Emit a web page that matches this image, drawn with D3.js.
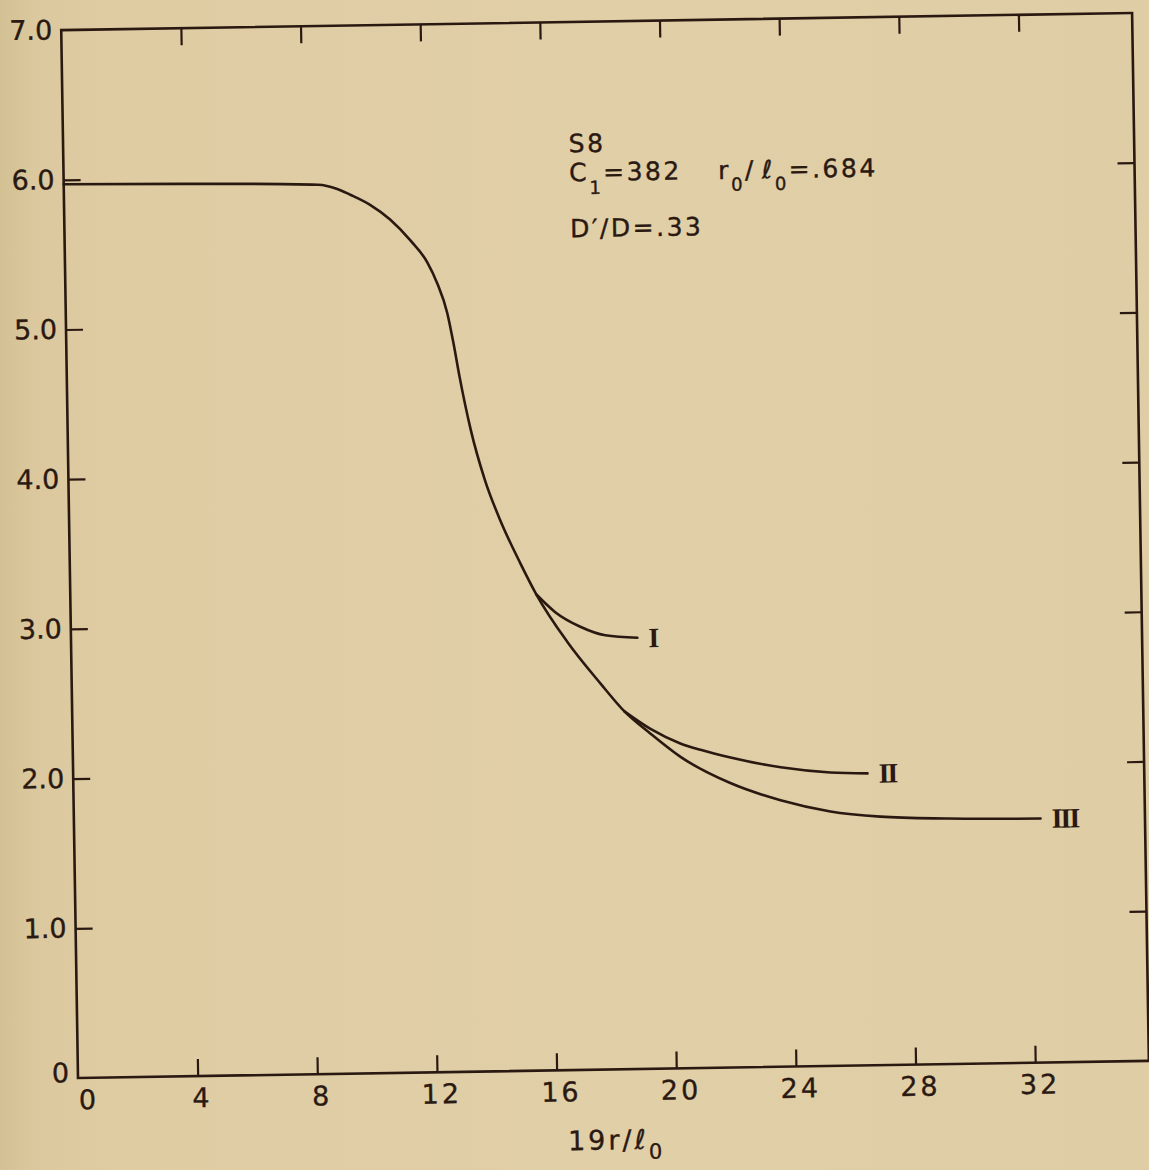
<!DOCTYPE html>
<html>
<head>
<meta charset="utf-8">
<script src="https://cdn.jsdelivr.net/npm/d3@7"></script>
<style>
  html, body { margin: 0; padding: 0; background: #e0cda5; }
  svg { display: block; }
</style>
</head>
<body>
<svg id="chart" width="1149" height="1170"></svg>
<script>
// ---- axis ticks and labels ----
const xTicks  = [4, 8, 12, 16, 20, 24, 28, 32];
const xLabels = [0, 4, 8, 12, 16, 20, 24, 28, 32];
const yTicks  = [1, 2, 3, 4, 5, 6];
const yLabels = [0, 1, 2, 3, 4, 5, 6, 7];
const xExtent = [0, 35.8];
const yExtent = [0, 7];

// ---- main curve (continues as branch III) ----
const mainX = [0, 4, 8.5, 9.14, 9.57, 10.23, 10.89, 11.55, 12.11, 12.43, 12.75, 12.94,
               13.13, 13.47, 13.92, 14.41, 15.06, 15.58, 16.59, 17.67, 18.46, 19.31,
               20.31, 21.96, 23.63, 25.29, 26.96, 29.2, 32.31];
const mainY = [5.97, 5.96, 5.94, 5.91, 5.87, 5.80, 5.70, 5.56, 5.41, 5.27, 5.07, 4.87,
               4.64, 4.29, 3.95, 3.68, 3.39, 3.18, 2.86, 2.58, 2.39, 2.24,
               2.08, 1.90, 1.78, 1.70, 1.66, 1.64, 1.63];

// ---- branch I ----
const branchIX = [15.58, 16.2, 17.03, 17.86, 18.93];
const branchIY = [3.18, 3.06, 2.96, 2.90, 2.88];

// ---- branch II ----
const branchIIX = [18.46, 19.32, 20.31, 20.98, 21.98, 23.65, 25.31, 26.55];
const branchIIY = [2.39, 2.27, 2.17, 2.125, 2.07, 2.00, 1.96, 1.95];

const curveNames = ["I", "II", "III"];

// ---- layout ----
const W = 1071, H = 1048;          // frame size
const origin = [78, 1078];         // lower-left corner of the frame
const tilt = -0.917;               // frame rotation in degrees
const ink = "#2a1911";

const svg = d3.select("#chart");

// paper background with a slightly darker left edge
const defs = svg.append("defs");
const grad = defs.append("linearGradient").attr("id", "paper")
  .attr("x1", "0").attr("x2", "1").attr("y1", "0").attr("y2", "0");
[["0%", "#d3c194"], ["3%", "#dbc89e"], ["10%", "#dfcca3"], ["55%", "#e1cfa8"], ["100%", "#dfcda5"]]
  .forEach(([o, c]) => grad.append("stop").attr("offset", o).attr("stop-color", c));
svg.append("rect").attr("width", 1149).attr("height", 1170).attr("fill", "url(#paper)");

const g = svg.append("g")
  .attr("transform", `translate(${origin[0]},${origin[1]}) rotate(${tilt}) translate(0,${-H})`);

const x = d3.scaleLinear().domain(xExtent).range([0, W]);
const y = d3.scaleLinear().domain(yExtent).range([H, 0]);

const tickFont = "DejaVu Sans, Verdana, sans-serif";

function styleAxis(sel) {
  sel.select(".domain").remove();
  sel.selectAll(".tick line").attr("stroke", ink).attr("stroke-width", 2.2);
  sel.selectAll(".tick text").attr("fill", ink).attr("stroke", ink).attr("stroke-width", 0.35)
    .style("font-family", tickFont).style("font-size", "27px");
}

// bottom axis with labels
const gx = g.append("g").attr("transform", `translate(0,${H})`)
  .call(d3.axisBottom(x).tickValues(xLabels).tickSizeInner(-17).tickSizeOuter(0)
    .tickPadding(12).tickFormat(d3.format("d")));
styleAxis(gx);
gx.selectAll(".tick").filter(d => d === 0).select("line").remove();
gx.selectAll(".tick text").style("letter-spacing", "3px")
  .attr("dx", d => d === 0 ? 10 : 4);

// top axis: ticks only
const gt = g.append("g")
  .call(d3.axisTop(x).tickValues(xTicks).tickSizeInner(-17).tickSizeOuter(0).tickFormat(""));
styleAxis(gt);

// left axis with labels
const gy = g.append("g")
  .call(d3.axisLeft(y).tickValues(yLabels).tickSizeInner(-17).tickSizeOuter(0)
    .tickPadding(9).tickFormat(d => d === 0 ? "0" : d3.format(".1f")(d)));
styleAxis(gy);
gy.selectAll(".tick").filter(d => d === 0 || d === 7).select("line").remove();
gy.selectAll(".tick text").filter(d => d === 0).attr("y", -5);

// right axis: ticks only
const gr = g.append("g").attr("transform", `translate(${W},0)`)
  .call(d3.axisRight(y).tickValues(yTicks).tickSizeInner(-17).tickSizeOuter(0).tickFormat(""));
styleAxis(gr);

// frame
g.append("rect").attr("x", x(xExtent[0])).attr("y", y(yExtent[1]))
  .attr("width", x(xExtent[1]) - x(xExtent[0])).attr("height", y(yExtent[0]) - y(yExtent[1]))
  .attr("fill", "none").attr("stroke", ink).attr("stroke-width", 2.6);

// curves
const line = d3.line().x(d => x(d[0])).y(d => y(d[1])).curve(d3.curveMonotoneX);
const series = [
  { name: curveNames[0], xs: branchIX,  ys: branchIY },
  { name: curveNames[1], xs: branchIIX, ys: branchIIY },
  { name: curveNames[2], xs: mainX,     ys: mainY }
];
series.forEach(s => {
  const pts = d3.zip(s.xs, s.ys);
  g.append("path").datum(pts).attr("d", line)
    .attr("fill", "none").attr("stroke", ink).attr("stroke-width", 2.6)
    .attr("stroke-linejoin", "round").attr("stroke-linecap", "round");
  const last = pts[pts.length - 1];
  g.append("text").attr("x", x(last[0]) + 11).attr("y", y(last[1]))
    .attr("dominant-baseline", "central")
    .style("font-family", "Liberation Serif, DejaVu Serif, serif")
    .style("font-size", "28px").style("font-weight", "bold").style("letter-spacing", "-2px")
    .attr("fill", ink).text(s.name);
});

// annotation block
const note = g.append("g")
  .attr("transform", `translate(${x(16.9)},${y(6.13)})`)
  .style("font-family", tickFont).style("font-size", "25px")
  .style("letter-spacing", "2.5px").attr("fill", ink)
  .attr("stroke", ink).attr("stroke-width", 0.4);

note.append("text").attr("x", 0).attr("y", 0).text("S8");

const l2a = note.append("text").attr("x", 0).attr("y", 29);
l2a.append("tspan").text("C");
l2a.append("tspan").attr("dy", 13).style("font-size", "18px").text("1");
l2a.append("tspan").attr("dy", -13).text("=382");

const l2b = note.append("text").attr("x", 149).attr("y", 29);
l2b.append("tspan").text("r");
l2b.append("tspan").attr("dy", 12).style("font-size", "18px").text("0");
l2b.append("tspan").attr("dy", -12).text("/");
l2b.append("tspan").attr("dx", 6).text("ℓ");
l2b.append("tspan").attr("dy", 12).style("font-size", "18px").text("0");
l2b.append("tspan").attr("dy", -12).text("=.684");

note.append("text").attr("x", 0).attr("y", 85).text("D′/D=.33");

// x-axis title
const title = g.append("text")
  .attr("x", x((xExtent[0] + xExtent[1]) / 2) + 2).attr("y", H + 80)
  .attr("text-anchor", "middle")
  .style("font-family", tickFont).style("font-size", "27px")
  .style("letter-spacing", "3px").attr("fill", ink)
  .attr("stroke", ink).attr("stroke-width", 0.35);
title.append("tspan").text("19r/ℓ");
title.append("tspan").attr("dy", 10).style("font-size", "21px").text("0");
</script>
</body>
</html>
